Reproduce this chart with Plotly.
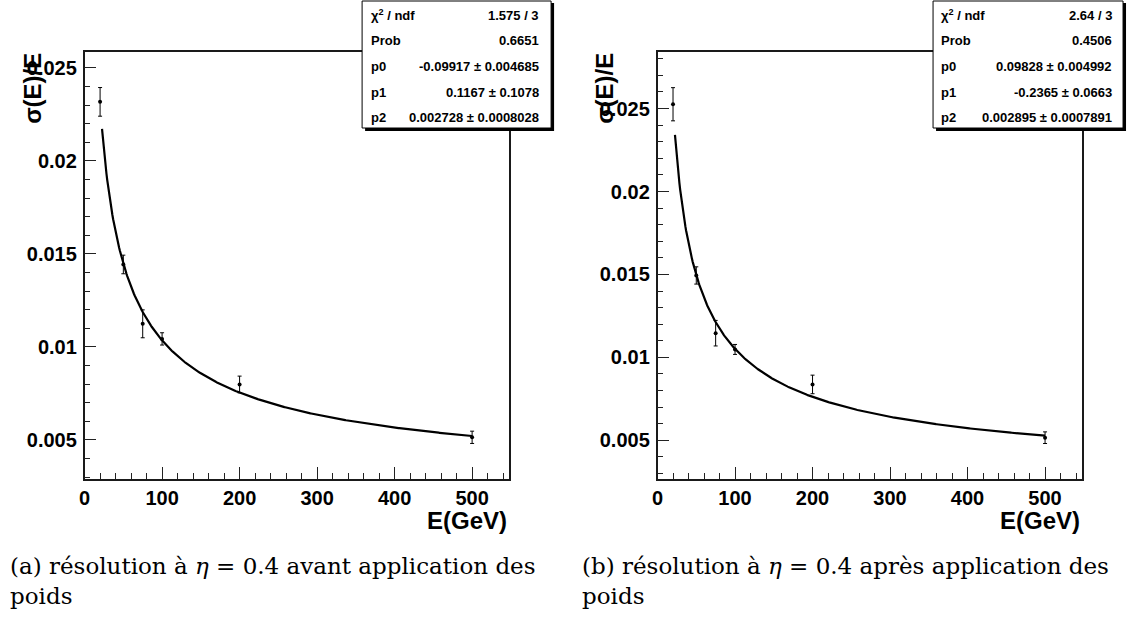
import numpy as np
import plotly.graph_objects as go

W, H = 1131, 617


def px(x):
    return x / W


def py(y):
    return 1 - y / H


# ---------------- data ----------------
energy = [20, 50, 75, 100, 200, 500]

sigma_before = [0.02317, 0.01443, 0.01124, 0.01043, 0.00798, 0.00514]
err_before = [0.00077, 0.00050, 0.00075, 0.00033, 0.00045, 0.00033]

sigma_after = [0.02526, 0.01494, 0.01146, 0.01048, 0.00837, 0.00516]
err_after = [0.00100, 0.00052, 0.00077, 0.00030, 0.00056, 0.00035]

fit_before = [-0.09917, 0.1167, 0.002728]
fit_before_err = [0.004685, 0.1078, 0.0008028]
chi2_before = "1.575 / 3"
prob_before = "0.6651"

fit_after = [0.09828, -0.2365, 0.002895]
fit_after_err = [0.004992, 0.0663, 0.0007891]
chi2_after = "2.64 / 3"
prob_after = "0.4506"

fit_range = [22.5, 500]

x_ticks = [0, 100, 200, 300, 400, 500]
x_ticktext = ["0", "100", "200", "300", "400", "500"]
y_ticks = [0.005, 0.01, 0.015, 0.02, 0.025]
y_ticktext = ["0.005", "0.01", "0.015", "0.02", "0.025"]

x_title = "E(GeV)"
y_title = "σ(E)/E"
caption_a = ["(a) résolution à <i>η</i> = 0.4 avant application des", "poids"]
caption_b = ["(b) résolution à <i>η</i> = 0.4 après application des", "poids"]

# ---------------- layout geometry (pixels) ----------------
panels = [
    dict(x0=79, x1=506, yr=[0.00290, 0.02585], sig=sigma_before, err=err_before,
         fit=fit_before, ferr=fit_before_err, chi2=chi2_before, prob=prob_before,
         box=(358, 548), lab_x=365, val_x=538, ytitle_x=26, cap_x=2, cap=caption_a),
    dict(x0=655, x1=1082, yr=[0.00267, 0.02841], sig=sigma_after, err=err_after,
         fit=fit_after, ferr=fit_after_err, chi2=chi2_after, prob=prob_after,
         box=(932, 1123), lab_x=938, val_x=1114, ytitle_x=601, cap_x=577, cap=caption_b),
]
top, bottom = 52, 479

fig = go.Figure()
shapes = []
annotations = []

tickfont = dict(family="Liberation Sans, Arial, sans-serif", size=20, color="black", weight="bold")
statfont = dict(family="Liberation Sans, Arial, sans-serif", size=13, color="black", weight="bold")
titlefont = dict(family="Liberation Sans, Arial, sans-serif", size=24, color="black", weight="bold")
capfont = dict(family="DejaVu Serif, serif", size=23, color="black")

row_y = [15, 40.8, 66.5, 92.3, 117.5]

for i, p in enumerate(panels):
    sfx = "" if i == 0 else str(i + 1)
    xa, ya = "x" + sfx, "y" + sfx

    p0, p1, p2 = p["fit"]
    e = np.linspace(fit_range[0], fit_range[1], 500)
    curve = np.sqrt(p0 ** 2 / e + p1 ** 2 / e ** 2 + p2 ** 2)
    fig.add_trace(go.Scatter(x=e, y=curve, mode="lines", xaxis=xa, yaxis=ya,
                             line=dict(color="black", width=2.2), hoverinfo="skip"))
    fig.add_trace(go.Scatter(x=energy, y=p["sig"], mode="markers", xaxis=xa, yaxis=ya,
                             marker=dict(color="black", size=4),
                             error_y=dict(type="data", array=p["err"], visible=True,
                                          color="black", thickness=1, width=2)))

    common = dict(showline=True, linecolor="#1a1a1a", linewidth=1.5, mirror=True,
                  ticks="inside", ticklen=12, tickwidth=1, tickcolor="#222",
                  showgrid=False, zeroline=False, tickfont=tickfont, tickmode="array")
    fig.layout["xaxis" + sfx] = dict(
        common, domain=[px(p["x0"]), px(p["x1"])], range=[0, 548],
        tickvals=x_ticks, ticktext=x_ticktext, anchor=ya,
        minor=dict(ticks="inside", ticklen=6, tickwidth=1, tickcolor="#222",
                   tickmode="linear", tick0=0, dtick=20, showgrid=False))
    fig.layout["yaxis" + sfx] = dict(
        common, domain=[py(bottom), py(top)], range=p["yr"],
        tickvals=y_ticks, ticktext=y_ticktext, anchor=xa, ticklabelstandoff=2,
        minor=dict(ticks="inside", ticklen=6, tickwidth=1, tickcolor="#222",
                   tickmode="linear", tick0=0, dtick=0.001, showgrid=False))

    # stats box
    bx0, bx1 = p["box"]
    shapes.append(dict(type="rect", xref="paper", yref="paper", layer="above",
                       x0=px(bx0 + 3), x1=px(bx1 + 3), y0=py(131), y1=py(3),
                       fillcolor="black", line=dict(width=0)))
    shapes.append(dict(type="rect", xref="paper", yref="paper", layer="above",
                       x0=px(bx0), x1=px(bx1), y0=py(128), y1=py(1),
                       fillcolor="white", line=dict(color="black", width=1)))
    labels = ["χ<sup>2</sup> / ndf", "Prob", "p0", "p1", "p2"]
    values = [p["chi2"], p["prob"]] + [f"{v} ± {ev}" for v, ev in zip(p["fit"], p["ferr"])]
    for lab, val, ry in zip(labels, values, row_y):
        annotations.append(dict(text=lab, x=px(p["lab_x"]), y=py(ry), xref="paper", yref="paper",
                                xanchor="left", yanchor="middle", showarrow=False, font=statfont))
        annotations.append(dict(text=val, x=px(p["val_x"]), y=py(ry), xref="paper", yref="paper",
                                xanchor="right", yanchor="middle", showarrow=False, font=statfont))

    # axis titles
    annotations.append(dict(text=x_title, x=px(p["x1"]), y=py(520), xref="paper", yref="paper",
                            xanchor="right", yanchor="middle", showarrow=False, font=titlefont))
    annotations.append(dict(text=y_title, x=px(p["ytitle_x"]), y=py(88), xref="paper", yref="paper",
                            xanchor="center", yanchor="middle", textangle=-90, showarrow=False,
                            font=titlefont))
    # captions
    for line, cy in zip(p["cap"], [566, 596]):
        annotations.append(dict(text=line, x=px(p["cap_x"]), y=py(cy), xref="paper", yref="paper",
                                xanchor="left", yanchor="middle", showarrow=False, font=capfont))

fig.update_layout(width=W, height=H, margin=dict(l=0, r=0, t=0, b=0),
                  paper_bgcolor="white", plot_bgcolor="white", showlegend=False,
                  shapes=shapes, annotations=annotations)

fig.write_html("out.html")
